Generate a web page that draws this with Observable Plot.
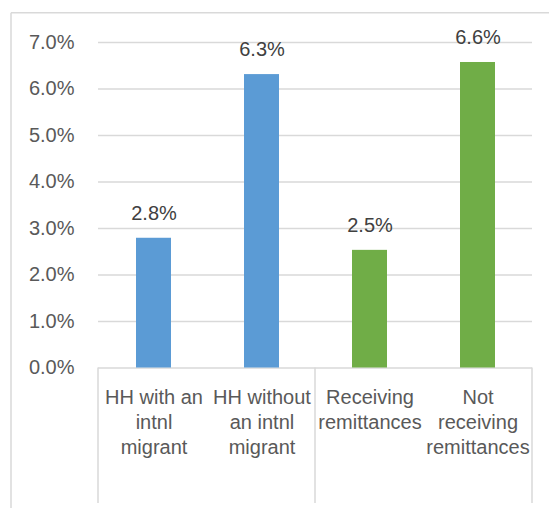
<!DOCTYPE html>
<html><head><meta charset="utf-8">
<script src="https://cdn.jsdelivr.net/npm/d3@7"></script>
<script src="https://cdn.jsdelivr.net/npm/@observablehq/plot@0.6"></script>
<style>html,body{margin:0;padding:0;background:#fff;} svg{display:block}</style>
</head><body><div id="chart"></div>
<script>
const categories = ["HH with an intnl migrant", "HH without an intnl migrant", "Receiving remittances", "Not receiving remittances"];
const categoryLabels = ["HH with an\nintnl\nmigrant", "HH without\nan intnl\nmigrant", "Receiving\nremittances", "Not\nreceiving\nremittances"];
const groups = ["migrant", "migrant", "remittances", "remittances"];
const values = [2.79, 6.31, 2.53, 6.57];
const valueLabels = ["2.8%", "6.3%", "2.5%", "6.6%"];
const groupNames = ["migrant", "remittances"];
const groupColors = ["#5B9BD5", "#70AD47"];
const yMax = 7;
const yTickCount = 7;

const data = categories.map((c, i) => ({
  category: c, catLabel: categoryLabels[i], group: groups[i], value: values[i], label: valueLabels[i]
}));
const gridValues = d3.range(0, yMax + 1, 1);

const chart = Plot.plot({
  width: 549, height: 508,
  marginLeft: 98, marginRight: 17, marginTop: 42, marginBottom: 140.5,
  style: {fontFamily: "'Liberation Sans', Arial, sans-serif", fontSize: "20px", color: "#595959", background: "white", overflow: "visible"},
  x: {domain: categories, paddingInner: 0.68, paddingOuter: 0.34, axis: null},
  y: {domain: [0, yMax], ticks: yTickCount, tickFormat: d => d.toFixed(1) + "%", tickSize: 0, tickPadding: 24, label: null},
  color: {domain: groupNames, range: groupColors},
  marks: [
    Plot.ruleY(gridValues, {stroke: "#d9d9d9", strokeWidth: 1.5}),
    Plot.barY(data, {x: "category", y: "value", fill: "group"}),
    Plot.text(data, {x: "category", y: "value", text: "label", dy: -25, fill: "#404040"}),
    Plot.text(data, {x: "category", y: () => 0, text: "catLabel", lineAnchor: "top", dy: 18, lineHeight: 1.25, fill: "#595959"})
  ]
});
document.getElementById("chart").appendChild(chart);

// category separators of the multi-level axis and chart border
const xs = chart.scale("x");
const band = d3.scaleBand().domain(xs.domain).range(xs.range)
  .paddingInner(xs.paddingInner ?? 0).paddingOuter(xs.paddingOuter ?? 0).align(xs.align ?? 0.5);
const ys = chart.scale("y");
const yLin = d3.scaleLinear().domain(ys.domain).range(ys.range);
const step = band.step();
const center = c => band(c) + band.bandwidth() / 2;
const sepX = [];
categories.forEach((c, i) => {
  if (i === 0 || groups[i] !== groups[i - 1]) sepX.push(center(c) - step / 2);
});
sepX.push(center(categories[categories.length - 1]) + step / 2);
const svg = d3.select(chart);
const g = svg.append("g").attr("stroke", "#d9d9d9").attr("stroke-width", 1.5);
const y0 = yLin(0);
sepX.forEach(x => g.append("line").attr("x1", x).attr("x2", x).attr("y1", y0).attr("y2", 503));
g.append("line").attr("x1", 11).attr("x2", 11).attr("y1", 12.7).attr("y2", 508);
g.append("line").attr("x1", 11).attr("x2", 549).attr("y1", 12.7).attr("y2", 12.7);
</script>
</body></html>
